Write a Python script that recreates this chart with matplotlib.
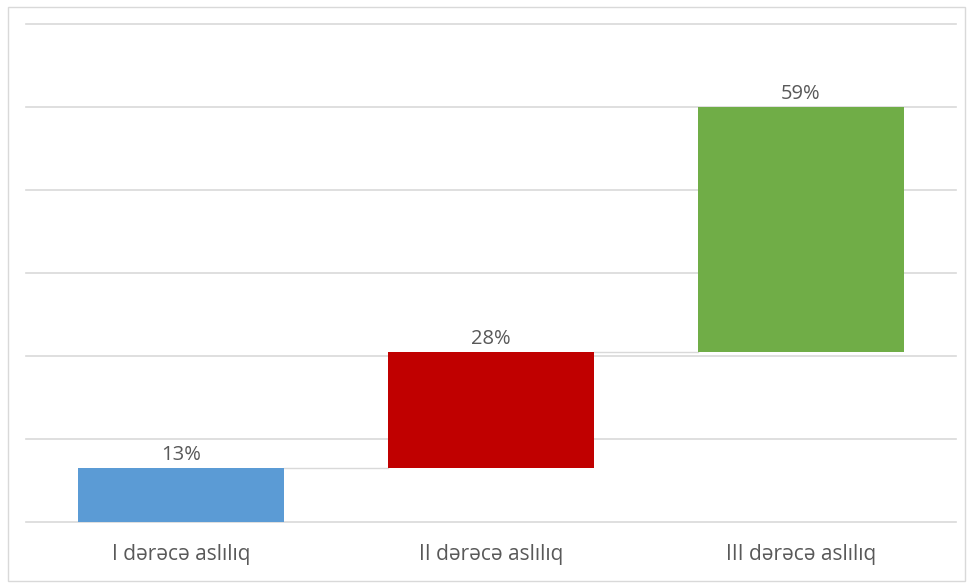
import matplotlib
matplotlib.use("Agg")
import matplotlib.pyplot as plt
from matplotlib.patches import Rectangle
import numpy as np

categories = ["I dərəcə aslılıq", "II dərəcə aslılıq", "III dərəcə aslılıq"]
shares = [13, 28, 59]
colors = ["#5B9BD5", "#C00000", "#70AD47"]
y_ticks = [0, 20, 40, 60, 80, 100, 120]

plt.rcParams["font.family"] = ["Open Sans", "DejaVu Sans"]

fig = plt.figure(figsize=(9.68, 5.83), dpi=100)
ax = fig.add_axes([26 / 968, 61 / 583, 930 / 968, 498 / 583])

# outer chart frame
fig.patches.append(Rectangle((8 / 968, 2 / 583), 957 / 968, 574 / 583,
                             transform=fig.transFigure, fill=False,
                             edgecolor="#d9d9d9", linewidth=1.0))

x = np.arange(len(categories))
bottoms = np.concatenate([[0], np.cumsum(shares)[:-1]])
width = 0.665

# horizontal gridlines
for t in y_ticks:
    ax.axhline(t, color="#d9d9d9", linewidth=1.2, zorder=0, clip_on=False)

ax.bar(x, shares, bottom=bottoms, width=width, color=colors, zorder=3)

# connectors between consecutive steps
tops = bottoms + np.array(shares)
for i in range(len(categories) - 1):
    ax.plot([x[i] + width / 2, x[i + 1] - width / 2], [tops[i], tops[i]],
            color="#d9d9d9", linewidth=1.0, zorder=2)

for xi, b, v in zip(x, bottoms, shares):
    ax.annotate(f"{v}%", (xi, b + v), xytext=(0, 2), textcoords="offset points",
                ha="center", va="bottom", fontsize=14.5, color="#595959")

ax.set_xlim(-0.5, len(categories) - 0.5)
ax.set_ylim(y_ticks[0], y_ticks[-1])
ax.set_yticks([])
ax.set_xticks(x)
ax.set_xticklabels(categories, fontsize=15, color="#595959")
ax.tick_params(axis="x", length=0, pad=16)
for s in ax.spines.values():
    s.set_visible(False)

fig.savefig("out.png", dpi=100)
